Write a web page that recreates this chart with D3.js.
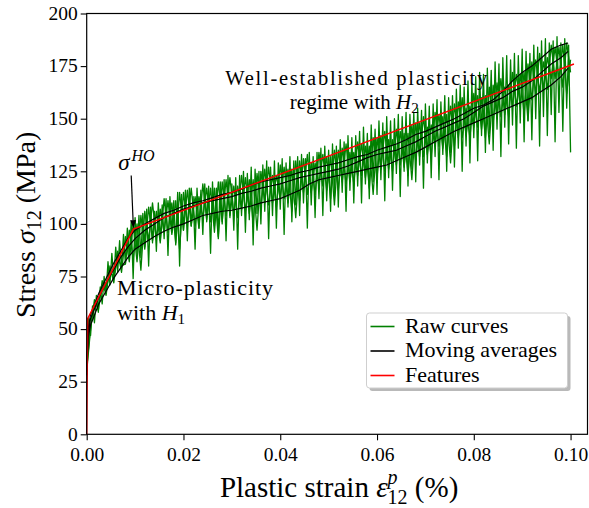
<!DOCTYPE html>
<html>
<head>
<meta charset="utf-8">
<script src="https://cdn.jsdelivr.net/npm/d3@7"></script>
<style>
  body { margin: 0; background: #fff; }
  svg { display: block; }
  text { font-family: "Liberation Serif", "Times New Roman", serif; fill: #000; }
</style>
</head>
<body>
<svg id="chart" width="589" height="508"></svg>
<script>
// Axis ticks
const xTicks = [0, 0.02, 0.04, 0.06, 0.08, 0.10];
const yTicks = [0, 25, 50, 75, 100, 125, 150, 175, 200];

// Raw stress signals (MPa). Test 1 sampled every 0.0004 of plastic strain,
// tests 2 and 3 every 0.0008.
const rawStep1 = 0.0004;
const rawTest1 = [
  30, 55, 47, 61, 53, 66, 58, 70, 62, 75,
  67, 82, 71, 86, 74, 89, 77, 92, 79, 95,
  81, 98, 84, 101, 74, 103, 86, 104, 84, 105,
  89, 107, 80, 108, 91, 106, 87, 110, 92, 109,
  93, 112, 85, 113, 96, 111, 90, 115, 80, 114,
  97, 116, 92, 117, 99, 113, 88, 117, 98, 116,
  95, 119, 101, 118, 86, 120, 99, 117, 94, 120,
  100, 121, 92, 123, 103, 119, 97, 122, 88, 123,
  104, 125, 96, 124, 102, 127, 90, 126, 105, 125,
  100, 128, 106, 130, 93, 127, 104, 130, 98, 129,
  107, 131, 95, 129, 108, 132, 101, 130, 109, 132,
  104, 133, 110, 131, 98, 134, 109, 132, 103, 134,
  112, 136, 104, 137, 111, 135, 106, 138, 113, 137,
  108, 140, 115, 139, 106, 142, 116, 141, 110, 142,
  118, 144, 110, 146, 119, 143, 112, 147, 120, 145,
  114, 149, 121, 148, 111, 151, 122, 149, 116, 150,
  124, 152, 113, 151, 125, 153, 118, 152, 126, 153,
  120, 155, 128, 154, 117, 157, 129, 156, 122, 157,
  132, 159, 121, 158, 133, 161, 125, 160, 134, 161,
  127, 164, 136, 166, 125, 165, 137, 168, 129, 167,
  141, 170, 130, 172, 142, 171, 134, 174, 143, 173,
  135, 177, 145, 176, 132, 179, 146, 180, 138, 178,
  147, 181, 136, 180, 148, 183, 139, 182, 149, 181,
  140, 185, 150, 184, 137, 187, 151, 188, 142, 186,
  152, 187, 139, 189, 153, 186, 144, 188, 155, 185,
  134
];
const rawStep23 = 0.0008;
const rawTest2 = [
  30, 50, 64, 59, 73, 66, 80, 72, 87, 77,
  94, 82, 100, 82, 104, 88, 108, 92, 106, 91,
  112, 96, 110, 91, 115, 97, 116, 99, 113, 98,
  119, 102, 117, 96, 120, 101, 121, 104, 118, 103,
  123, 106, 121, 100, 124, 107, 126, 109, 123, 108,
  128, 112, 126, 106, 130, 111, 131, 114, 129, 114,
  134, 118, 132, 112, 135, 116, 136, 119, 134, 119,
  139, 123, 137, 117, 141, 122, 142, 125, 140, 125,
  145, 128, 143, 123, 147, 130, 148, 132, 146, 132,
  153, 137, 151, 132, 156, 137, 158, 141, 155, 141,
  162, 146, 160, 141, 165, 148, 167, 151, 165, 151,
  172, 156, 171, 152, 176, 159, 178, 163, 177, 164,
  185, 169, 184, 165, 186, 172
];
const rawTest3 = [
  31, 52, 61, 61, 70, 69, 77, 75, 84, 80,
  81, 97, 83, 100, 78, 106, 92, 110, 93, 107,
  96, 111, 95, 111, 88, 115, 100, 117, 99, 113,
  103, 117, 101, 117, 93, 120, 104, 122, 105, 118,
  107, 122, 105, 121, 97, 125, 110, 127, 110, 123,
  112, 127, 110, 126, 103, 130, 115, 133, 115, 129,
  118, 133, 116, 132, 109, 135, 120, 138, 120, 134,
  123, 138, 122, 137, 114, 141, 126, 144, 126, 140,
  128, 144, 127, 143, 121, 148, 132, 151, 133, 147,
  137, 152, 136, 152, 129, 157, 141, 160, 142, 156,
  146, 161, 145, 161, 138, 166, 150, 169, 152, 166,
  156, 171, 156, 172, 149, 177, 162, 181, 164, 179,
  169, 184, 169, 185, 162, 178
];

// Moving averages of the three tests
const avgStrain = [
  0, 0.0003, 0.0008, 0.0015, 0.0025, 0.004, 0.0055, 0.007, 0.0085,
  0.010, 0.012, 0.014, 0.016, 0.018, 0.020, 0.022, 0.024, 0.026, 0.028,
  0.030, 0.032, 0.034, 0.036, 0.038, 0.040, 0.042, 0.044, 0.046, 0.048,
  0.050, 0.052, 0.054, 0.056, 0.058, 0.060, 0.062, 0.064, 0.066, 0.068,
  0.070, 0.072, 0.074, 0.076, 0.078, 0.080, 0.082, 0.084, 0.086, 0.088,
  0.090, 0.092, 0.094, 0.096, 0.098, 0.0995
];
const avgTest1 = [
  30, 50, 57, 61, 67, 74, 81, 87, 93,
  97, 100, 102.5, 105, 106.5, 108.5, 110, 111, 112.5, 114,
  115, 116.5, 118.5, 120, 121, 122, 123, 124.5, 125.5, 127,
  128, 129, 130.5, 132, 133, 135, 136.5, 138, 140, 142.5,
  144, 146, 148, 150, 152.5, 155, 156.5, 159, 163, 168,
  172, 175, 179, 183, 185, 186
];
const avgTest2 = [
  28, 48, 55, 59, 65, 72, 78, 84, 89,
  93, 97, 100, 103, 105, 107, 108.5, 110, 111, 112,
  113, 114.5, 115.5, 117, 118, 119, 120.5, 122, 123, 124,
  125, 126, 127.5, 129.5, 131.5, 133, 134, 135, 137, 139,
  141.5, 144, 146, 148, 150, 153, 156, 158, 160, 163,
  165, 168, 172, 176, 179, 182
];
const avgTest3 = [
  30, 46, 52, 56, 62, 68, 74, 79, 84,
  88, 91, 94, 96.5, 98.5, 100, 102, 104, 105, 106,
  106.5, 107.5, 108.5, 110, 111, 112, 114, 116, 119, 121,
  122, 123, 124, 125, 126, 127, 128, 130, 132, 134,
  136.5, 139, 141.5, 144, 146, 148, 150, 152, 154, 156,
  158, 160, 163, 166, 170, 174
];

// Bilinear hardening features: elastic limit, sigma^HO, end of test
const featureStrain = [0, 0.0002, 0.00965, 0.1007];
const featureStress = [0, 55, 97.5, 176];

const svg = d3.select("#chart");
const x = d3.scaleLinear().domain([0, 0.1035]).range([86.7, 587.5]);
const y = d3.scaleLinear().domain([0, 200]).range([434.3, 13.5]);
const line = d3.line().x(d => x(d[0])).y(d => y(d[1]));

// raw curves
[[rawTest1, rawStep1], [rawTest2, rawStep23], [rawTest3, rawStep23]].forEach(([vals, step]) => {
  svg.append("path")
    .datum(vals.map((v, i) => [i * step, v]))
    .attr("d", line)
    .attr("fill", "none")
    .attr("stroke", "#008000")
    .attr("stroke-width", 1.3)
    .attr("stroke-linejoin", "round");
});

// moving averages
[avgTest1, avgTest2, avgTest3].forEach(series => {
  svg.append("path")
    .datum(series.map((v, i) => [avgStrain[i], v]))
    .attr("d", line)
    .attr("fill", "none")
    .attr("stroke", "#000")
    .attr("stroke-width", 1.2);
});

// features
svg.append("path")
  .datum(featureStress.map((v, i) => [featureStrain[i], v]))
  .attr("d", line)
  .attr("fill", "none")
  .attr("stroke", "#ff0000")
  .attr("stroke-width", 1.5);

// axes frame
const [x0, x1] = x.range();
const [y0, y1] = y.range();
svg.append("rect")
  .attr("x", x0).attr("y", y1)
  .attr("width", x1 - x0).attr("height", y0 - y1)
  .attr("fill", "none").attr("stroke", "#000").attr("stroke-width", 1.2);

const xAxis = d3.axisBottom(x).tickValues(xTicks).tickFormat(d3.format(".2f"))
  .tickSize(6).tickPadding(7);
const yAxis = d3.axisLeft(y).tickValues(yTicks).tickFormat(d3.format("d"))
  .tickSize(6).tickPadding(3);

const gx = svg.append("g").attr("transform", `translate(0,${y0})`).call(xAxis);
const gy = svg.append("g").attr("transform", `translate(${x0},0)`).call(yAxis);
[gx, gy].forEach(g => {
  g.select(".domain").remove();
  g.selectAll("line").attr("stroke", "#000").attr("stroke-width", 1.1);
  g.selectAll("text").style("font-family", '"Liberation Serif", serif')
    .style("font-size", "19.5px").attr("fill", "#000");
});
gx.selectAll("text").attr("dy", "0.71em");
gy.selectAll("text").attr("dy", "0.3em");

// axis titles
const xt = svg.append("text")
  .attr("x", (x0 + x1) / 2 + 2).attr("y", 497)
  .attr("text-anchor", "middle").style("font-size", "29px");
xt.append("tspan").text("Plastic strain ");
xt.append("tspan").attr("font-style", "italic").text("ε");
xt.append("tspan").attr("font-style", "italic").style("font-size", "20px").attr("dy", -13).text("p");
xt.append("tspan").style("font-size", "20px").attr("dx", -10).attr("dy", 20).text("12");
xt.append("tspan").attr("dy", -7).text(" (%)");

const yt = svg.append("text")
  .attr("transform", `translate(35,${(y0 + y1) / 2 + 1}) rotate(-90)`)
  .attr("text-anchor", "middle").style("font-size", "28px");
yt.append("tspan").text("Stress ");
yt.append("tspan").attr("font-style", "italic").text("σ");
yt.append("tspan").style("font-size", "20px").attr("dy", 6).text("12");
yt.append("tspan").attr("dy", -6).text(" (MPa)");

// annotation arrow pointing at sigma^HO
const elbow = [featureStrain[2], featureStress[2]];
const tail = [0.0092, 123];
const tx = x(tail[0]), ty = y(tail[1]);
const hx = x(elbow[0]), hy = y(elbow[1]) - 1;
const ang = Math.atan2(hy - ty, hx - tx);
const hl = 8, hw = 3;
svg.append("line")
  .attr("x1", tx).attr("y1", ty)
  .attr("x2", hx - hl * Math.cos(ang)).attr("y2", hy - hl * Math.sin(ang))
  .attr("stroke", "#000").attr("stroke-width", 1.2);
svg.append("path")
  .attr("d", `M${hx},${hy}` +
    `L${hx - hl * Math.cos(ang) + hw * Math.sin(ang)},${hy - hl * Math.sin(ang) - hw * Math.cos(ang)}` +
    `L${hx - hl * Math.cos(ang) - hw * Math.sin(ang)},${hy - hl * Math.sin(ang) + hw * Math.cos(ang)}Z`)
  .attr("fill", "#000");

const sHO = svg.append("text").attr("x", x(0.0065)).attr("y", y(125.5)).style("font-size", "23px");
sHO.append("tspan").attr("font-style", "italic").text("σ");
sHO.append("tspan").attr("font-style", "italic").style("font-size", "16px").attr("dx", 2).attr("dy", -9).text("HO");

svg.append("text").attr("x", x(0.00627)).attr("y", y(66.1)).style("font-size", "22px")
  .attr("textLength", 156).attr("lengthAdjust", "spacing").text("Micro-plasticity");
const h1 = svg.append("text").attr("x", x(0.00627)).attr("y", y(54.2)).style("font-size", "22px");
h1.append("tspan").text("with ");
h1.append("tspan").attr("font-style", "italic").text("H");
h1.append("tspan").style("font-size", "15px").attr("dy", 4).text("1");

svg.append("text").attr("x", x(0.0557)).attr("y", y(166.1)).attr("text-anchor", "middle")
  .style("font-size", "20.5px").attr("textLength", 262).attr("lengthAdjust", "spacing")
  .text("Well-established plasticity");
const h2 = svg.append("text").attr("x", x(0.0553)).attr("y", y(154.6)).attr("text-anchor", "middle")
  .style("font-size", "21px");
h2.append("tspan").text("regime with ");
h2.append("tspan").attr("font-style", "italic").text("H");
h2.append("tspan").style("font-size", "15px").attr("dy", 4).text("2");

// legend
const legendItems = [
  { label: "Raw curves", color: "#008000" },
  { label: "Moving averages", color: "#000000" },
  { label: "Features", color: "#ff0000" }
];
const lg = svg.append("g").attr("transform", "translate(366.5,313)");
lg.append("rect").attr("x", 3).attr("y", 3).attr("width", 201).attr("height", 75)
  .attr("rx", 3).attr("fill", "#8a8a8a").attr("opacity", 0.6);
lg.append("rect").attr("width", 201).attr("height", 75).attr("rx", 3)
  .attr("fill", "#fff").attr("stroke", "#cfcfcf").attr("stroke-width", 1);
legendItems.forEach((it, i) => {
  const cy = 13.5 + i * 24.5;
  lg.append("line").attr("x1", 4).attr("x2", 28).attr("y1", cy).attr("y2", cy)
    .attr("stroke", it.color).attr("stroke-width", 1.6);
  lg.append("text").attr("x", 38.5).attr("y", cy + 6).style("font-size", "22px").text(it.label);
});
</script>
</body>
</html>
